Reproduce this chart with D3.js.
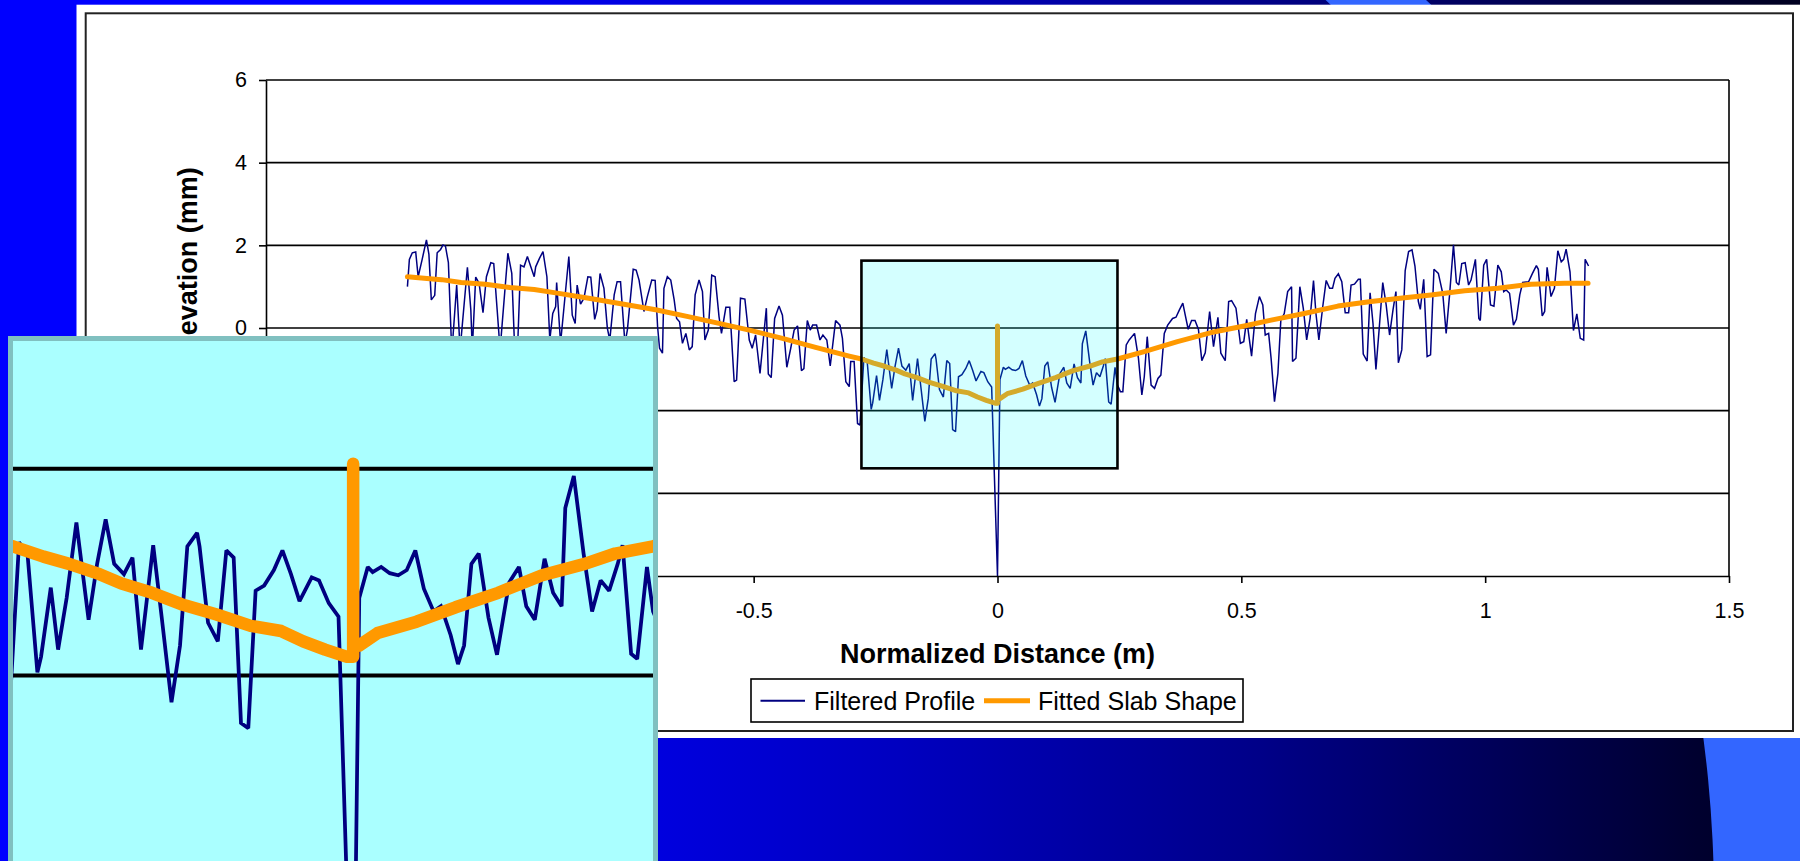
<!DOCTYPE html>
<html><head><meta charset="utf-8">
<script src="https://cdn.jsdelivr.net/npm/d3@7"></script>
<style>html,body{margin:0;padding:0;overflow:hidden;background:#0000ff} svg{display:block}</style>
</head><body>
<svg id="c" width="1800" height="861"></svg>
<script>
// ---------------- DATA ----------------
const profileX = [
-1.210,-1.206,-1.200,-1.193,-1.188,-1.180,-1.171,-1.166,-1.161,-1.154,-1.149,-1.142,-1.137,-1.132,-1.126,-1.119,-1.109,-1.102,-1.087,-1.080,-1.077,-1.070,-1.063,-1.055,-1.048,-1.039,-1.033,-1.026,-1.020,-1.004,-0.996,-0.990,-0.984,-0.978,-0.971,-0.964,-0.957,-0.950,-0.947,-0.939,-0.932,-0.924,-0.918,-0.912,-0.906,
-0.904,-0.896,-0.879,-0.872,-0.866,-0.862,-0.855,-0.848,-0.840,-0.834,-0.826,-0.821,-0.815,-0.807,-0.800,-0.795,-0.786,-0.780,-0.773,-0.764,-0.759,-0.747,-0.741,-0.735,-0.725,-0.718,-0.709,-0.702,-0.697,-0.693,-0.687,-0.684,-0.677,-0.670,-0.663,-0.658,-0.652,-0.646,-0.639,-0.632,-0.626,-0.620,-0.612,-0.605,-0.600,-0.593,-0.586,-0.579,
-0.571,-0.566,-0.557,-0.549,-0.540,-0.535,-0.527,-0.518,-0.509,-0.503,-0.496,-0.487,-0.474,-0.470,-0.464,-0.457,-0.448,-0.441,-0.432,-0.424,-0.417,-0.410,-0.402,-0.397,-0.390,-0.384,-0.379,-0.371,-0.364,-0.358,-0.350,-0.343,-0.332,-0.323,-0.318,-0.311,-0.304,-0.301,-0.294,-0.287,-0.282,
-0.274,-0.267,-0.259,-0.256,-0.248,-0.242,-0.235,-0.227,-0.217,-0.210,-0.203,-0.196,-0.188,-0.181,-0.174,-0.164,-0.157,-0.149,-0.142,-0.136,-0.128,-0.126,-0.119,-0.111,-0.104,-0.098,-0.092,-0.086,-0.080,-0.073,-0.065,-0.058,-0.051,-0.044,-0.034,-0.028,-0.020,-0.012,0.000,
0.005,0.012,0.016,0.023,0.030,0.037,0.044,0.051,0.058,0.066,0.072,0.080,0.086,0.091,0.097,0.103,0.111,0.118,0.125,0.128,0.136,0.142,0.149,0.157,0.164,0.171,0.174,0.181,0.189,0.196,0.203,0.210,0.217,0.221,0.228,0.233,0.241,0.246,
0.252,0.257,0.264,0.270,0.281,0.289,0.296,0.301,0.307,0.315,0.322,0.329,0.335,0.342,0.349,0.359,0.366,0.373,0.380,0.385,0.391,0.398,0.405,0.412,0.419,0.426,0.435,0.443,0.452,0.458,0.467,0.474,0.480,0.489,0.498,0.505,0.511,0.521,0.529,0.537,0.544,0.549,0.556,0.561,
0.568,0.575,0.581,0.588,0.595,0.603,0.605,0.612,0.620,0.627,0.634,0.641,0.648,0.653,0.659,0.667,0.674,0.681,0.687,0.692,0.699,0.706,0.713,0.720,0.725,0.732,0.740,0.744,0.750,0.758,0.764,0.770,0.776,0.783,0.790,0.797,0.804,0.811,0.817,0.822,0.829,0.836,0.843,0.850,0.856,0.863,0.867,0.874,0.881,0.888,
0.895,0.904,0.913,0.920,0.927,0.935,0.941,0.946,0.952,0.959,0.966,0.971,0.980,0.987,0.990,0.997,1.003,1.011,1.018,1.026,1.033,1.038,1.043,1.050,1.058,1.064,1.071,1.077,1.089,1.097,1.105,1.109,1.117,1.122,1.127,1.135,1.142,1.149,1.156,1.161,1.166,1.174,1.181,1.188,1.195,1.202,1.205,1.212
];
const profileY = [
1.00,1.66,1.82,1.84,1.24,1.65,2.13,1.79,0.68,0.79,1.82,1.90,2.01,1.98,1.58,-0.61,1.04,-0.53,1.47,0.44,-0.53,1.23,1.08,0.37,1.24,1.58,1.56,0.44,-0.53,1.81,1.32,-0.53,-0.45,1.52,1.48,1.73,1.48,1.24,1.48,1.69,1.85,1.24,-0.29,0.35,0.52,
1.10,-0.37,1.73,0.31,0.11,1.04,0.58,0.72,1.24,1.23,0.21,0.44,1.32,0.96,-0.01,-0.29,0.80,1.12,1.12,-0.37,-0.05,1.42,1.40,1.16,0.40,0.76,1.16,1.15,0.03,-0.49,-0.61,0.96,1.24,1.16,0.68,0.23,0.15,-0.37,-0.13,-0.53,-0.45,0.80,1.16,0.88,-0.29,-0.05,1.28,1.24,
0.27,-0.13,0.50,0.50,-1.30,-1.26,0.72,0.70,-0.29,-0.49,-0.17,-1.10,0.48,-1.11,-1.20,0.23,0.53,0.31,-0.95,-0.49,-0.05,0.05,-1.03,-0.98,0.18,-0.05,0.07,0.07,-0.29,-0.17,-0.29,-0.92,0.18,0.07,-0.25,-1.30,-1.42,-0.81,-0.81,-2.31,-2.35,
-0.71,-0.84,-1.97,-1.82,-1.15,-1.75,-1.25,-0.52,-1.46,-0.92,-0.49,-0.92,-1.02,-0.86,-1.75,-0.74,-1.44,-2.26,-1.71,-0.75,-0.62,-0.75,-1.49,-1.67,-0.79,-0.86,-2.46,-2.51,-1.18,-1.13,-0.98,-0.79,-1.02,-1.28,-1.05,-1.08,-1.30,-1.43,-6.00,
-1.25,-0.95,-1.00,-0.95,-1.01,-1.03,-0.98,-0.79,-1.16,-1.38,-1.33,-1.61,-1.89,-1.71,-0.92,-0.82,-1.44,-1.80,-1.31,-1.10,-0.95,-1.33,-1.46,-0.87,-1.20,-1.33,-0.38,-0.07,-0.82,-1.38,-1.08,-1.18,-0.92,-0.74,-1.79,-1.84,-0.95,-1.38,
-1.54,-1.54,-0.41,-0.29,-0.13,-0.73,-1.62,-1.18,-0.21,-1.38,-1.46,-1.22,-1.14,-0.13,0.07,0.23,0.26,0.44,0.60,0.31,-0.03,0.18,0.18,-0.03,-0.79,-0.60,0.40,-0.45,0.26,-0.61,-0.79,0.64,0.66,0.48,-0.37,-0.33,0.21,-0.68,0.35,0.76,0.56,-0.17,-0.13,-0.73,
-1.78,-1.10,0.19,0.35,0.88,1.00,-0.81,-0.73,1.00,0.48,-0.29,0.23,1.15,0.35,-0.29,0.52,1.15,0.96,0.96,1.20,1.31,1.12,0.37,0.37,1.04,1.06,1.18,1.18,-0.63,-0.80,0.85,0.11,-1.00,0.03,1.10,0.56,-0.17,0.44,0.88,-0.84,-0.53,1.39,1.85,1.89,1.50,0.64,0.45,1.18,-0.69,-0.65,
1.42,1.32,0.84,-0.13,0.80,2.01,1.10,1.04,1.56,1.58,1.04,1.16,1.66,0.23,0.18,1.52,1.66,0.56,0.53,1.52,1.36,0.88,0.92,0.84,0.07,0.21,0.80,1.10,1.12,1.32,1.51,1.42,0.29,0.40,1.47,0.76,0.96,1.87,1.60,1.66,1.91,1.36,-0.06,0.34,-0.25,-0.29,1.66,1.50
];
const slabX = [-1.210,-1.170,-1.140,-1.100,-1.050,-1.000,-0.950,-0.906,-0.838,-0.769,-0.701,-0.632,-0.578,-0.509,-0.441,-0.373,-0.304,-0.279,-0.254,-0.233,-0.208,-0.190,-0.165,-0.141,-0.112,-0.084,-0.059,-0.041,-0.023,-0.005,0.000,0.000,0.000,0.005,0.020,0.052,0.084,0.119,0.155,0.190,0.215,0.246,0.301,0.369,0.438,0.506,0.561,0.629,0.698,0.766,0.835,0.889,0.958,1.026,1.094,1.163,1.211];
const slabY = [1.24,1.20,1.17,1.10,1.06,0.98,0.93,0.85,0.72,0.58,0.44,0.27,0.13,-0.05,-0.25,-0.47,-0.68,-0.75,-0.85,-0.92,-1.02,-1.11,-1.20,-1.31,-1.41,-1.52,-1.57,-1.67,-1.75,-1.82,-1.82,0.05,-1.72,-1.71,-1.59,-1.48,-1.34,-1.20,-1.03,-0.92,-0.82,-0.75,-0.57,-0.33,-0.11,0.05,0.19,0.35,0.53,0.64,0.73,0.80,0.90,0.96,1.06,1.08,1.08];
const xTicks = [-1.5,-1,-0.5,0,0.5,1,1.5];
const yTicks = [-6,-4,-2,0,2,4,6];
const seriesNames = ["Filtered Profile","Fitted Slab Shape"];
const xTitle = "Normalized Distance (m)";
const yTitle = "Elevation (mm)";
const zoomWindow = [-0.279, 0.246, -3.395, 1.63]; // x0, x1, y0, y1 (data units)

// ---------------- DRAW ----------------
const W=1800,H=861;
const FONT="'Liberation Sans', Arial, sans-serif";
const svg=d3.select("#c");
const defs=svg.append("defs");

const bg=defs.append("linearGradient").attr("id","bg").attr("x1",0).attr("x2",1).attr("y1",0).attr("y2",0);
[[0,"#0000ff"],[0.22,"#0000ff"],[0.5,"#0000c0"],[0.7,"#000088"],[0.94,"#000030"],[1,"#000020"]]
  .forEach(s=>bg.append("stop").attr("offset",s[0]).attr("stop-color",s[1]));
svg.append("rect").attr("width",W).attr("height",H).attr("fill","url(#bg)");
// light-blue crescent of the slide design (between two circles)
const ring=d3.path();
ring.moveTo(560+1285.5,950); ring.arc(560,950,1285.5,0,2*Math.PI); ring.closePath();
ring.moveTo(477+1237,900); ring.arc(477,900,1237,0,2*Math.PI); ring.closePath();
svg.append("path").attr("d",ring.toString()).attr("fill","#3366ff").attr("fill-rule","evenodd");

// white chart panel
svg.append("rect").attr("x",76.5).attr("y",4.7).attr("width",W-76.5).attr("height",738-4.7).attr("fill","#fff");
svg.append("rect").attr("x",85.7).attr("y",13.3).attr("width",1793-85.7).attr("height",731-13.3)
  .attr("fill","none").attr("stroke","#222").attr("stroke-width",2);

const m={l:266,r:1729,t:80,b:576};
const x=d3.scaleLinear().domain([-1.5,1.5]).range([m.l,m.r]);
const y=d3.scaleLinear().domain([-6,6]).range([m.b,m.t]);

function drawContent(g){
  g.append("g").selectAll("line").data(yTicks.filter(v=>v>-6)).join("line")
    .attr("x1",m.l).attr("x2",m.r).attr("y1",d=>y(d)).attr("y2",d=>y(d))
    .attr("stroke","#000").attr("stroke-width",1.6);
  const idx=d3.range(profileX.length);
  const line=d3.line().x(i=>x(profileX[i])).y(i=>y(profileY[i]));
  g.append("path").attr("d",line(idx)).attr("fill","none").attr("stroke","#000080")
    .attr("stroke-width",1.5).attr("stroke-linejoin","miter").attr("stroke-miterlimit",2);
  const sidx=d3.range(slabX.length);
  const sline=d3.line().x(i=>x(slabX[i])).y(i=>y(slabY[i]));
  g.append("path").attr("d",sline(sidx)).attr("fill","none").attr("stroke","#ff9900")
    .attr("stroke-width",5).attr("stroke-linejoin","round").attr("stroke-linecap","round");
}

const plot=svg.append("g");
drawContent(plot);
plot.append("line").attr("x1",m.r).attr("x2",m.r).attr("y1",m.t).attr("y2",m.b).attr("stroke","#000").attr("stroke-width",1.6);

// axes
const xAxis=d3.axisBottom(x).tickValues(xTicks).tickSize(7).tickSizeOuter(0).tickPadding(19.5).tickFormat(d=>String(d));
const gx=svg.append("g").attr("transform",`translate(0,${m.b})`).call(xAxis);
const yAxis=d3.axisLeft(y).tickValues(yTicks).tickSize(7).tickSizeOuter(0).tickPadding(12).tickFormat(d=>String(d));
const gy=svg.append("g").attr("transform",`translate(${m.l},0)`).call(yAxis);
[gx,gy].forEach(a=>{
  a.selectAll("path.domain").attr("stroke","#000").attr("stroke-width",1.6);
  a.selectAll(".tick line").attr("stroke","#000").attr("stroke-width",1.6);
  a.selectAll("text").attr("fill","#000").style("font-family",FONT).style("font-size","21.5px");
});

// zoom window box on the main plot
svg.append("rect")
  .attr("x",x(zoomWindow[0])).attr("y",y(zoomWindow[3]))
  .attr("width",x(zoomWindow[1])-x(zoomWindow[0])).attr("height",y(zoomWindow[2])-y(zoomWindow[3]))
  .attr("fill","#00ffff").attr("fill-opacity",0.17).attr("stroke","#000").attr("stroke-width",2.6);

// titles
svg.append("text").attr("x",(m.l+m.r)/2).attr("y",663).attr("text-anchor","middle")
  .style("font-family",FONT).style("font-size","27px").style("font-weight","bold").text(xTitle);
svg.append("text").attr("transform","translate(187.5,264) rotate(-90)").attr("dy","0.35em").attr("text-anchor","middle")
  .style("font-family",FONT).style("font-size","27px").style("font-weight","bold").text(yTitle);

// legend
const lg=svg.append("g");
lg.append("rect").attr("x",751).attr("y",679).attr("width",492).attr("height",43).attr("fill","#fff").attr("stroke","#000").attr("stroke-width",1.6);
const legendItems=[{name:seriesNames[0],c:"#000080",w:2,x0:760.5,x1:805,tx:814},{name:seriesNames[1],c:"#ff9900",w:5,x0:984,x1:1030,tx:1038}];
legendItems.forEach(it=>{
  lg.append("line").attr("x1",it.x0).attr("x2",it.x1).attr("y1",700.7).attr("y2",700.7).attr("stroke",it.c).attr("stroke-width",it.w);
  lg.append("text").attr("x",it.tx).attr("y",709.5).style("font-family",FONT).style("font-size","25px").text(it.name);
});

// magnified inset
const insetScale=2.5;
const inset={x:10.5,y:338.5,w:645,h:560};
defs.append("clipPath").attr("id","insetClip").append("rect")
  .attr("x",inset.x+2.5).attr("y",inset.y+2).attr("width",inset.w-5).attr("height",inset.h);
const ig=svg.append("g");
ig.append("rect").attr("x",inset.x).attr("y",inset.y).attr("width",inset.w).attr("height",inset.h).attr("fill","#aaffff");
const tx=(inset.x+2.5)-insetScale*x(zoomWindow[0]);
const ty=468.8-insetScale*y(0);
const ic=ig.append("g").attr("clip-path","url(#insetClip)").append("g")
  .attr("transform",`translate(${tx},${ty}) scale(${insetScale})`);
drawContent(ic);
ig.append("rect").attr("x",inset.x).attr("y",inset.y).attr("width",inset.w).attr("height",inset.h)
  .attr("fill","none").attr("stroke","#80c0c0").attr("stroke-width",5);
</script>
</body></html>
